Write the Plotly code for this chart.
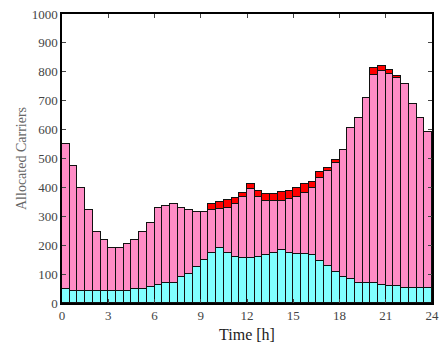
import plotly.graph_objects as go

times = [0.25 + 0.5 * i for i in range(48)]
cyan = [48, 42, 42, 42, 42, 42, 42, 42, 42, 48, 48, 54, 62, 70, 70, 90,
        100, 126, 149, 172, 189, 172, 160, 155, 155, 160, 166, 174, 183, 174, 170, 168,
        166, 146, 129, 108, 91, 83, 70, 70, 70, 62, 59, 59, 51, 51, 51, 51]
totals_pink = [550, 474, 397, 322, 245, 218, 191, 191, 203, 218, 245, 278, 330, 336, 343, 328,
               322, 314, 314, 322, 324, 328, 341, 368, 394, 368, 354, 354, 354, 360, 368, 382,
               397, 431, 458, 483, 529, 607, 641, 708, 789, 804, 792, 778, 758, 689, 641, 591]
red = [0] * 19 + [19, 24, 28, 21, 14, 18, 21, 23, 23, 29, 29, 29, 30,
                  23, 23, 8, 12, 0, 0, 0, 0, 23, 16, 14, 7, 0, 0, 0, 0]
pink = [t - c for t, c in zip(totals_pink, cyan)]

line = dict(color="#111", width=1.4)
fig = go.Figure()
fig.add_bar(x=times, y=cyan, width=0.5, marker=dict(color="#80ffff", line=line))
fig.add_bar(x=times, y=pink, width=0.5, marker=dict(color="#ff8cc6", line=line))
fig.add_bar(x=times, y=red, width=0.5, marker=dict(color="#ff0000", line=line))

SERIF = "Liberation Serif, Times New Roman, serif"
tickfont = dict(family=SERIF, size=13, color="#444")
fig.update_layout(
    barmode="stack", bargap=0, showlegend=False,
    width=441, height=347, margin=dict(l=62, r=9, t=14, b=44, autoexpand=False),
    plot_bgcolor="white", paper_bgcolor="white", font=dict(family=SERIF, size=13, color="#444"),
)
fig.update_xaxes(range=[0, 24], tickvals=list(range(0, 25, 3)), ticks="inside", ticklen=4,
                 showline=True, linecolor="black", linewidth=1.5, mirror="ticks",
                 showgrid=False, zeroline=False, tickfont=tickfont, automargin=False,
                 ticklabeloverflow="allow",
                 title=dict(text="Time [h]", font=dict(family=SERIF, size=16, color="#222"), standoff=6))
fig.update_yaxes(range=[0, 1000], tickvals=list(range(0, 1001, 100)), ticks="inside", ticklen=4,
                 showline=True, linecolor="black", linewidth=1.5, mirror="ticks",
                 showgrid=False, zeroline=False, tickfont=tickfont, automargin=False,
                 ticklabeloverflow="allow",
                 title=dict(text="Allocated Carriers", font=dict(family=SERIF, size=14, color="#666"), standoff=2))
fig.write_html("out.html", config={"displayModeBar": False},
               post_script="document.body.style.margin='0';document.body.style.overflow='hidden';")
